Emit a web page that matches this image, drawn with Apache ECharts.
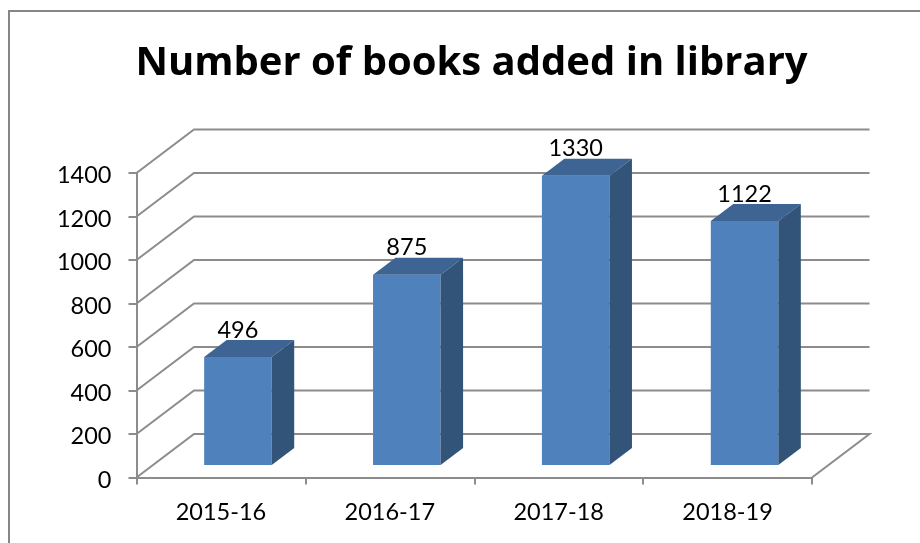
<!DOCTYPE html>
<html>
<head>
<meta charset="utf-8">
<style>html,body{margin:0;padding:0;background:#fff}#chart{width:920px;height:543px}</style>
<script src="https://cdn.jsdelivr.net/npm/echarts@6/dist/echarts.min.js"></script>
</head>
<body>
<div id="chart"></div>
<script>
// Books added per academic year
const categories = ['2015-16', '2016-17', '2017-18', '2018-19'];
const booksAdded = [496, 875, 1330, 1122];
const valueTicks = [0, 200, 400, 600, 800, 1000, 1200, 1400];

const FONT = 'Lato, "Open Sans", sans-serif';
const TITLE_FONT = '"Open Sans", Lato, sans-serif';
const GRID_COLOR = '#8c8c8c';

// Oblique projection of the chart box: wall depth and bar depth in pixels
const WALL_DX = 57.5, WALL_DY = -43.5;
const BAR_DX = 22.5, BAR_DY = -17;
const BAR_SHIFT_X = 17, BAR_SHIFT_Y = -12.5;
const BAR_BAND_RATIO = 0.4;

// Side wall and back wall lines for one value tick
function renderWallLine(params, api) {
  const v = api.value(0);
  const cs = params.coordSys;
  const y = api.coord([0, v])[1];
  const left = cs.x, right = cs.x + cs.width;
  const points = [
    [left, y],
    [left + WALL_DX, y + WALL_DY],
    [right + WALL_DX, y + WALL_DY]
  ];
  if (v === 0) points.push([right, y]);
  return {
    type: 'polyline',
    shape: { points },
    style: { fill: null, stroke: GRID_COLOR, lineWidth: 2 },
    silent: true
  };
}

// One prism: front face, top face, right face and its value label
function renderBar(params, api) {
  const idx = api.value(0);
  const val = api.value(1);
  const base = api.coord([idx, 0]);
  const top = api.coord([idx, val]);
  const w = api.size([1, 0])[0] * BAR_BAND_RATIO;
  const x0 = base[0] + BAR_SHIFT_X - w / 2;
  const x1 = x0 + w;
  const yb = base[1] + BAR_SHIFT_Y;
  const yt = top[1] + BAR_SHIFT_Y;
  const poly = (points, fill) => ({ type: 'polygon', shape: { points }, style: { fill, stroke: null } });
  return {
    type: 'group',
    children: [
      poly([[x0, yb], [x1, yb], [x1, yt], [x0, yt]], '#4f81bd'),
      poly([[x0, yt], [x1, yt], [x1 + BAR_DX, yt + BAR_DY], [x0 + BAR_DX, yt + BAR_DY]], '#3d6492'),
      poly([[x1, yb], [x1 + BAR_DX, yb + BAR_DY], [x1 + BAR_DX, yt + BAR_DY], [x1, yt]], '#325479'),
      {
        type: 'text',
        style: {
          x: (x0 + x1) / 2, y: yt - 27,
          text: String(val),
          align: 'center', verticalAlign: 'middle',
          font: '23.5px ' + FONT, fill: '#000'
        }
      }
    ]
  };
}

const chart = echarts.init(document.getElementById('chart'), null, { renderer: 'canvas' });
chart.setOption({
  animation: false,
  backgroundColor: '#ffffff',
  title: {
    text: 'Number of books added in library',
    left: 466.5, top: 39, textAlign: 'center',
    textStyle: { fontFamily: TITLE_FONT, fontSize: 40, fontWeight: 'bold', color: '#000' }
  },
  graphic: [{
    type: 'rect',
    shape: { x: 9, y: 11, width: 1000, height: 1000 },
    style: { fill: null, stroke: '#868686', lineWidth: 2 },
    silent: true
  }],
  grid: { left: 136.5, right: 108, top: 173, bottom: 65.5 },
  xAxis: {
    type: 'category',
    data: categories,
    axisLine: { lineStyle: { color: GRID_COLOR, width: 2 } },
    axisTick: { show: true, alignWithLabel: false, length: 7, lineStyle: { color: GRID_COLOR, width: 2 } },
    axisLabel: { color: '#000', fontFamily: FONT, fontSize: 23.5, margin: 23 }
  },
  yAxis: {
    type: 'value',
    min: 0, max: 1400, interval: 200,
    axisLine: { show: true, lineStyle: { color: GRID_COLOR, width: 2 } },
    axisTick: { show: true, length: 8, lineStyle: { color: GRID_COLOR, width: 2 } },
    axisLabel: {
      margin: 25,
      formatter: v => '{tick|' + v + '}',
      rich: {
        tick: { color: '#000', fontFamily: FONT, fontSize: 23.5, padding: [5, 0, 0, 0] }
      }
    },
    splitLine: { show: false }
  },
  series: [
    {
      type: 'custom', z: 1,
      coordinateSystem: 'cartesian2d',
      data: valueTicks.map(v => [v]),
      encode: { y: 0 },
      renderItem: renderWallLine,
      silent: true, clip: false
    },
    {
      type: 'custom', z: 3,
      coordinateSystem: 'cartesian2d',
      data: booksAdded.map((v, i) => [i, v]),
      encode: { x: 0, y: 1 },
      renderItem: renderBar,
      silent: true, clip: false
    }
  ]
});
</script>
</body>
</html>
